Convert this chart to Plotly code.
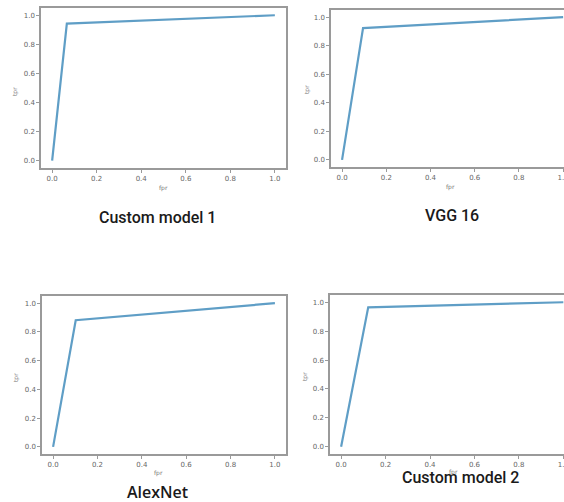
import plotly.graph_objects as go

W, H = 564, 502

titles = ["Custom model 1", "VGG 16", "AlexNet", "Custom model 2"]
fpr_1 = [0.0, 0.066, 1.0]
tpr_1 = [0.0, 0.943, 1.0]
fpr_2 = [0.0, 0.095, 1.0]
tpr_2 = [0.0, 0.923, 1.0]
fpr_3 = [0.0, 0.102, 1.0]
tpr_3 = [0.0, 0.881, 1.0]
fpr_4 = [0.0, 0.122, 1.0]
tpr_4 = [0.0, 0.965, 1.0]
tick_vals = [0.0, 0.2, 0.4, 0.6, 0.8, 1.0]
tick_text = ["0.0", "0.2", "0.4", "0.6", "0.8", "1.0"]

series = [(fpr_1, tpr_1), (fpr_2, tpr_2), (fpr_3, tpr_3), (fpr_4, tpr_4)]

# pixel boxes: (left, right, top, bottom), x range max, right frame visible
boxes = [
    (41, 286, 8, 168, 1.05, True),
    (331, 564, 10, 167, 1.004, False),
    (42, 286, 296, 454, 1.05, True),
    (330, 564, 295, 454, 1.003, False),
]
title_pos = [(157, 217), (452, 215), (157, 492), (460, 477)]
title_fonts = [("Roboto", 16, 500), ("Roboto", 16, 500),
               ("Open Sans", 16, 600), ("Roboto", 16, 500)]
xlab_pos = [(163, 188), (450, 187), (158, 473), (453, 472)]
ylab_pos = [(15, 92), (307, 90), (16, 378), (305, 377)]

fig = go.Figure()
frame = "#9a9a9a"
tickfont = dict(family="DejaVu Sans", size=7, color="#666666")
annotations = []

for i, ((xs, ys), (l, r, t, b, xmax, rightframe)) in enumerate(zip(series, boxes)):
    n = "" if i == 0 else str(i + 1)
    fig.add_trace(go.Scatter(x=xs, y=ys, mode="lines",
                             line=dict(color="#5f9ec6", width=2.2),
                             xaxis="x" + n, yaxis="y" + n, showlegend=False))
    fig.layout["xaxis" + n] = dict(
        domain=[l / W, r / W], range=[-0.05, xmax], anchor="y" + n,
        tickvals=tick_vals, ticktext=tick_text, ticks="outside", ticklen=3,
        tickcolor=frame, tickfont=tickfont, showgrid=False, zeroline=False,
        showline=True, linecolor=frame, linewidth=1.5, mirror=True,
        ticklabeloverflow="allow", automargin=False)
    fig.layout["yaxis" + n] = dict(
        domain=[1 - b / H, 1 - t / H], range=[-0.05, 1.05], anchor="x" + n,
        tickvals=tick_vals, ticktext=tick_text, ticks="outside", ticklen=3,
        tickcolor=frame, tickfont=tickfont, showgrid=False, zeroline=False,
        showline=True, linecolor=frame, linewidth=1.5,
        mirror=True if rightframe else False, automargin=False)
    tx, ty = title_pos[i]
    fam, sz, wt = title_fonts[i]
    annotations.append(dict(text=titles[i], x=tx / W, y=1 - ty / H, xref="paper", yref="paper",
                            showarrow=False, xanchor="center", yanchor="middle",
                            font=dict(family=fam, size=sz, color="#1a1a1a", weight=wt)))
    xx, xy = xlab_pos[i]
    annotations.append(dict(text="fpr", x=xx / W, y=1 - xy / H, xref="paper", yref="paper",
                            showarrow=False, xanchor="center", yanchor="middle",
                            font=dict(family="DejaVu Sans", size=6, color="#777777")))
    yx, yy = ylab_pos[i]
    annotations.append(dict(text="tpr", x=yx / W, y=1 - yy / H, xref="paper", yref="paper",
                            showarrow=False, xanchor="center", yanchor="middle", textangle=-90,
                            font=dict(family="DejaVu Sans", size=6, color="#777777")))

fig.update_layout(width=W, height=H, margin=dict(l=0, r=0, t=0, b=0, autoexpand=False),
                  paper_bgcolor="white", plot_bgcolor="white",
                  annotations=annotations)

fig.write_html("out.html", config={"displayModeBar": False},
               post_script="document.body.style.margin='0';document.body.style.overflow='hidden';")
